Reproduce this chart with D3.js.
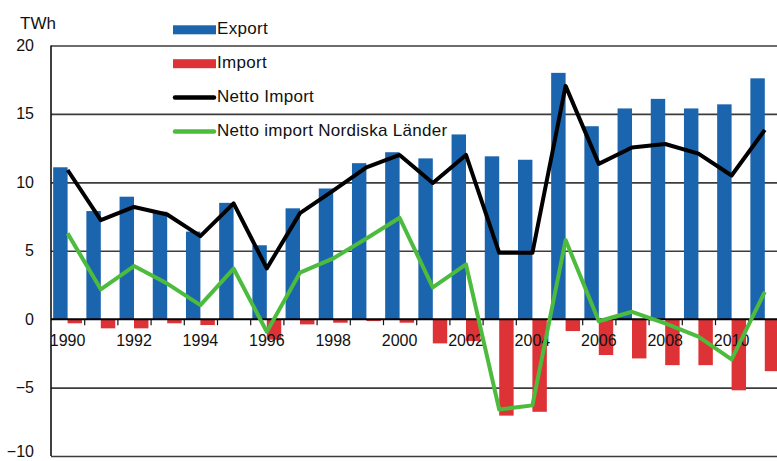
<!DOCTYPE html>
<html>
<head>
<meta charset="utf-8">
<script src="https://cdn.jsdelivr.net/npm/d3@7"></script>
<style>
  body { margin: 0; background: #fff; }
  svg { display: block; font-family: "Liberation Sans", Arial, sans-serif; }
</style>
</head>
<body>
<svg width="777" height="461"></svg>
<script>
// Data (TWh)
const years = [1990, 1991, 1992, 1993, 1994, 1995, 1996, 1997, 1998, 1999, 2000,
               2001, 2002, 2003, 2004, 2005, 2006, 2007, 2008, 2009, 2010, 2011];
const exportVals  = [11.1, 7.9, 8.95, 7.85, 6.4, 8.5, 5.4, 8.1, 9.55, 11.4, 12.2,
                     11.75, 13.5, 11.9, 11.65, 18.0, 14.1, 15.4, 16.1, 15.4, 15.7, 17.6];
const importVals  = [-0.3, -0.67, -0.67, -0.3, -0.43, -0.05, -1.5, -0.38, -0.26, -0.14, -0.26,
                     -1.77, -1.6, -7.05, -6.77, -0.87, -2.62, -2.87, -3.36, -3.36, -5.2, -3.8];
const nettoImport = [10.9, 7.24, 8.2, 7.65, 6.07, 8.46, 3.71, 7.75, 9.4, 11.1, 12.0,
                     9.95, 12.0, 4.85, 4.85, 17.05, 11.35, 12.55, 12.8, 12.1, 10.5, 13.83];
const nettoNordic = [6.27, 2.18, 3.88, 2.6, 1.03, 3.7, -0.92, 3.4, 4.44, 5.9, 7.41,
                     2.32, 4.0, -6.6, -6.3, 5.78, -0.15, 0.54, -0.3, -1.28, -2.94, 2.0];
const yTicks = [-10, -5, 0, 5, 10, 15, 20];
const xLabels = [1990, 1992, 1994, 1996, 1998, 2000, 2002, 2004, 2006, 2008, 2010];
const seriesNames = ["Export", "Import", "Netto Import", "Netto import Nordiska Länder"];

const colors = {export: "#1b64ae", import: "#dd3336", netto: "#000000", nordic: "#4dbb3d"};

const svg = d3.select("svg");
const plot = {left: 51, right: 781.4, top: 45.5, bottom: 456};

// Scales
const x = d3.scaleBand().domain(years).range([plot.left, plot.right]).padding(0);
const xSub = d3.scaleBand().domain(["export", "import"])
    .range([0, x.bandwidth()]).paddingInner(0).paddingOuter(0.15);
const xEdge = d3.scaleLinear().domain([1990, 2012]).range([plot.left, plot.right]);
const y = d3.scaleLinear().domain([-10, 20]).range([plot.bottom, plot.top]);

// Horizontal grid lines + y labels
const yAxis = d3.axisLeft(y).tickValues(yTicks)
    .tickSize(-(777 - plot.left)).tickPadding(17);
svg.append("g")
    .attr("transform", "translate(" + plot.left + ",0)")
    .call(yAxis)
    .call(g => g.select(".domain").remove())
    .call(g => g.selectAll(".tick line")
        .attr("stroke", d => d === 0 ? "none" : "#3c3c3c")
        .attr("stroke-width", 1.6))
    .call(g => g.selectAll(".tick text")
        .attr("font-size", 16).attr("fill", "#111")
        .attr("dy", d => d === -10 ? "0.05em" : "0.31em"));

// Bars
const groups = svg.append("g").selectAll("g")
  .data(years)
  .join("g")
    .attr("transform", d => "translate(" + x(d) + ",0)");

groups.append("rect")
    .attr("x", xSub("export"))
    .attr("width", xSub.bandwidth())
    .attr("y", (d, i) => y(exportVals[i]))
    .attr("height", (d, i) => y(0) - y(exportVals[i]))
    .attr("fill", colors.export);

groups.append("rect")
    .attr("x", xSub("import"))
    .attr("width", xSub.bandwidth())
    .attr("y", y(0))
    .attr("height", (d, i) => y(importVals[i]) - y(0))
    .attr("fill", colors.import);

// y axis line
svg.append("line")
    .attr("x1", plot.left).attr("x2", plot.left)
    .attr("y1", y(20)).attr("y2", y(-10))
    .attr("stroke", "#111").attr("stroke-width", 1.6);

// x axis: zero line, ticks at category edges
svg.append("g")
    .attr("transform", "translate(0," + y(0) + ")")
    .call(d3.axisBottom(xEdge).tickValues(d3.range(1991, 2012)).tickSize(6).tickFormat(""))
    .call(g => g.select(".domain").attr("stroke", "#000").attr("stroke-width", 2)
        .attr("d", "M" + plot.left + ",0H777"))
    .call(g => g.selectAll(".tick line").attr("stroke", "#111").attr("stroke-width", 1.2));

// x labels at category centres
svg.append("g")
    .attr("transform", "translate(0," + y(0) + ")")
    .call(d3.axisBottom(x).tickValues(xLabels).tickSize(0).tickPadding(15))
    .call(g => g.select(".domain").remove())
    .call(g => g.selectAll(".tick text").attr("font-size", 16).attr("fill", "#111"));

// Lines
const line = vals => d3.line()
    .x((d, i) => x(d) + x.bandwidth() / 2)
    .y((d, i) => y(vals[i]))(years);

svg.append("path")
    .attr("d", line(nettoImport))
    .attr("fill", "none").attr("stroke", colors.netto)
    .attr("stroke-width", 4).attr("stroke-linejoin", "round");

svg.append("path")
    .attr("d", line(nettoNordic))
    .attr("fill", "none").attr("stroke", colors.nordic)
    .attr("stroke-width", 4).attr("stroke-linejoin", "round");

// Unit label
svg.append("text")
    .attr("x", 20).attr("y", 29)
    .attr("font-size", 17).attr("fill", "#111")
    .text("TWh");

// Legend
const legend = svg.append("g").selectAll("g")
  .data(seriesNames)
  .join("g")
    .attr("transform", (d, i) => "translate(173," + (29.8 + i * 33.9) + ")");

legend.filter((d, i) => i < 2).append("rect")
    .attr("x", 0).attr("y", -4.5).attr("width", 43).attr("height", 9)
    .attr("fill", (d, i) => i === 0 ? colors.export : colors.import);

legend.filter((d, i) => i >= 2).append("line")
    .attr("x1", 2).attr("x2", 41)
    .attr("stroke", (d, i) => i === 0 ? colors.netto : colors.nordic)
    .attr("stroke-width", 4.5).attr("stroke-linecap", "round");

legend.append("text")
    .attr("x", 44).attr("y", 4.5)
    .attr("font-size", 17).attr("letter-spacing", 0.3).attr("fill", "#111")
    .text(d => d);
</script>
</body>
</html>
